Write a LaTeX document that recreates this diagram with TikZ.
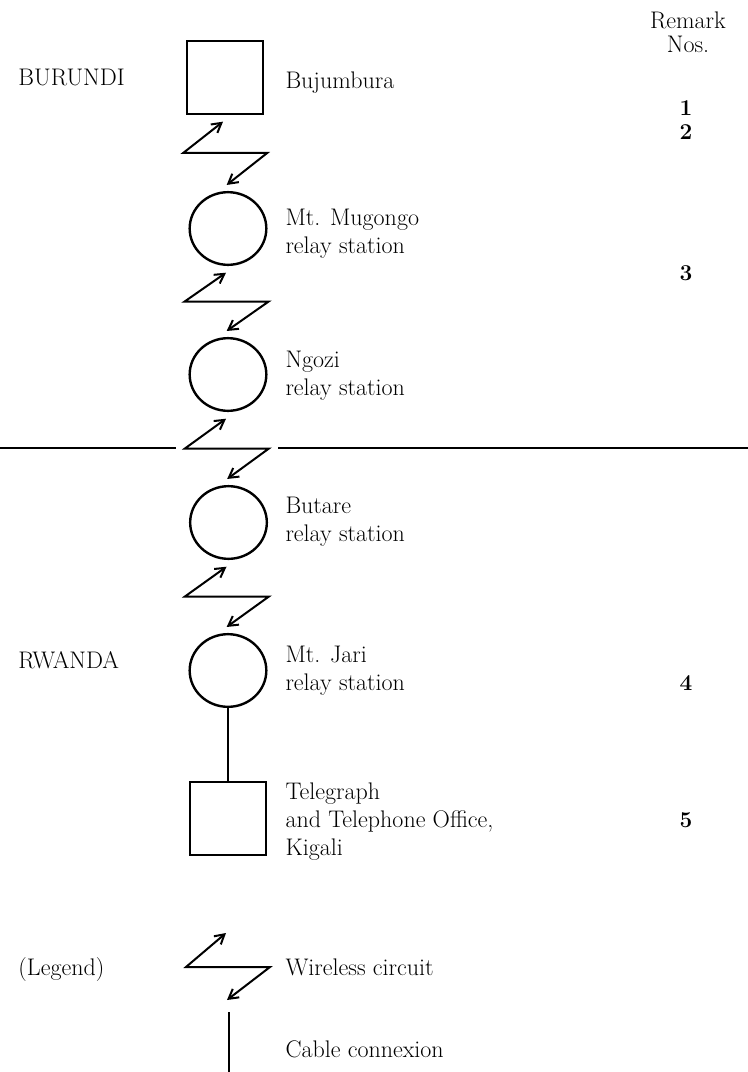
\documentclass[tikz,border=0pt]{standalone}
\usetikzlibrary{arrows.meta,calc,shapes.geometric}

\tikzset{every picture/.style={line width=0.75pt}}
\tikzset{
  station/.style={draw,ellipse,line width=1.8pt,minimum width=57.5pt,minimum height=54.5pt,inner sep=0pt},
  office/.style={draw,rectangle,line width=1.5pt,minimum width=57.5pt,minimum height=54.75pt,inner sep=0pt},
  txt/.style={anchor=base west,inner sep=0pt,align=left,font=\fontsize{18}{20.8}\selectfont},
  remark/.style={anchor=base,inner sep=0pt,font=\fontsize{17}{20}\selectfont\bfseries},
  head/.style={anchor=base,inner sep=0pt,font=\fontsize{18}{20}\selectfont},
  radio/.style={line width=1.5pt,{Straight Barb[length=7pt,width=8pt]}-{Straight Barb[length=7pt,width=8pt]}},
  cable/.style={line width=1.5pt},
}
% wireless circuit between two stations: source, target, name of middle point
\newcommand{\radiolink}[3]{%
  \coordinate (#3) at ($(#1.south)!0.5!(#2.north)$);
  \draw[radio] ([xshift=-1.5pt,yshift=5pt]#1.south) -- ([xshift=-32.5pt]#3) -- ([xshift=30.5pt]#3) -- ([xshift=-1pt,yshift=-4.5pt]#2.north);
}

\begin{document}
\begin{tikzpicture}[x=0.75pt,y=0.75pt,yscale=-1,xscale=1]
\useasboundingbox (0,0) rectangle (748,1072);

%Shape: Square
\node[office] (buj) at (225,77.5) {};
%Shape: Circles
\node[station] (mug) at (228,228.5) {};
\node[station] (ngo) at (228,374.5) {};
\node[station] (but) at (228.5,522.5) {};
\node[station] (jari) at (228,670.5) {};
%Shape: Square
\node[office] (kig) at (228,818.5) {};

%Wireless circuits
\radiolink{buj}{mug}{w1}
\radiolink{mug}{ngo}{w2}
\radiolink{ngo}{but}{w3}
\radiolink{but}{jari}{w4}
%Cable
\draw[cable] (jari.south) -- (kig.north);

%Border line
\draw[cable] (0,448) -- (176,448);
\draw[cable] (278,448) -- (748,448);

% Text Node
\node[txt] (lbuj) at (285,88) {Bujumbura};
\node[txt] (lmug) at (285,253) {Mt. Mugongo\\relay station};
\node[txt] (lngo) at (285,395) {Ngozi\\relay station};
\node[txt] (lbut) at (285,541) {Butare\\relay station};
\node[txt] (ljari) at (285,690) {Mt. Jari\\relay station};
\node[txt] (lkig) at (285,855) {Telegraph\\and Telephone Office,\\Kigali};

% Text Node
\node[txt] (bur) at (18,85) {BURUNDI};
\node[txt] (rwa) at (18,668) {RWANDA};
\node[txt] (leg) at (18,975) {(Legend)};

% Text Node
\node[head] (rem) at (688,28) {Remark};
\node[head] (nos) at (688,52) {Nos.};
\node[remark] (r1) at (686,115) {1};
\node[remark] (r2) at (686,139) {2};
\node[remark] (r3) at (686,280) {3};
\node[remark] (r4) at (686,690) {4};
\node[remark] (r5) at (686,827) {5};

%Legend
\coordinate (lgtop) at (226,933);
\coordinate (lgleft) at (186,967);
\coordinate (lgright) at (270,967);
\coordinate (lgbot) at (227,1000);
\draw[radio] (lgtop) -- (lgleft) -- (lgright) -- (lgbot);
\coordinate (cbtop) at (229,1012);
\coordinate (cbbot) at (229,1072);
\draw[cable] (cbtop) -- (cbbot);
\node[txt] (lwl) at (285,975) {Wireless circuit};
\node[txt] (lcb) at (285,1057) {Cable connexion};

\end{tikzpicture}
\end{document}
